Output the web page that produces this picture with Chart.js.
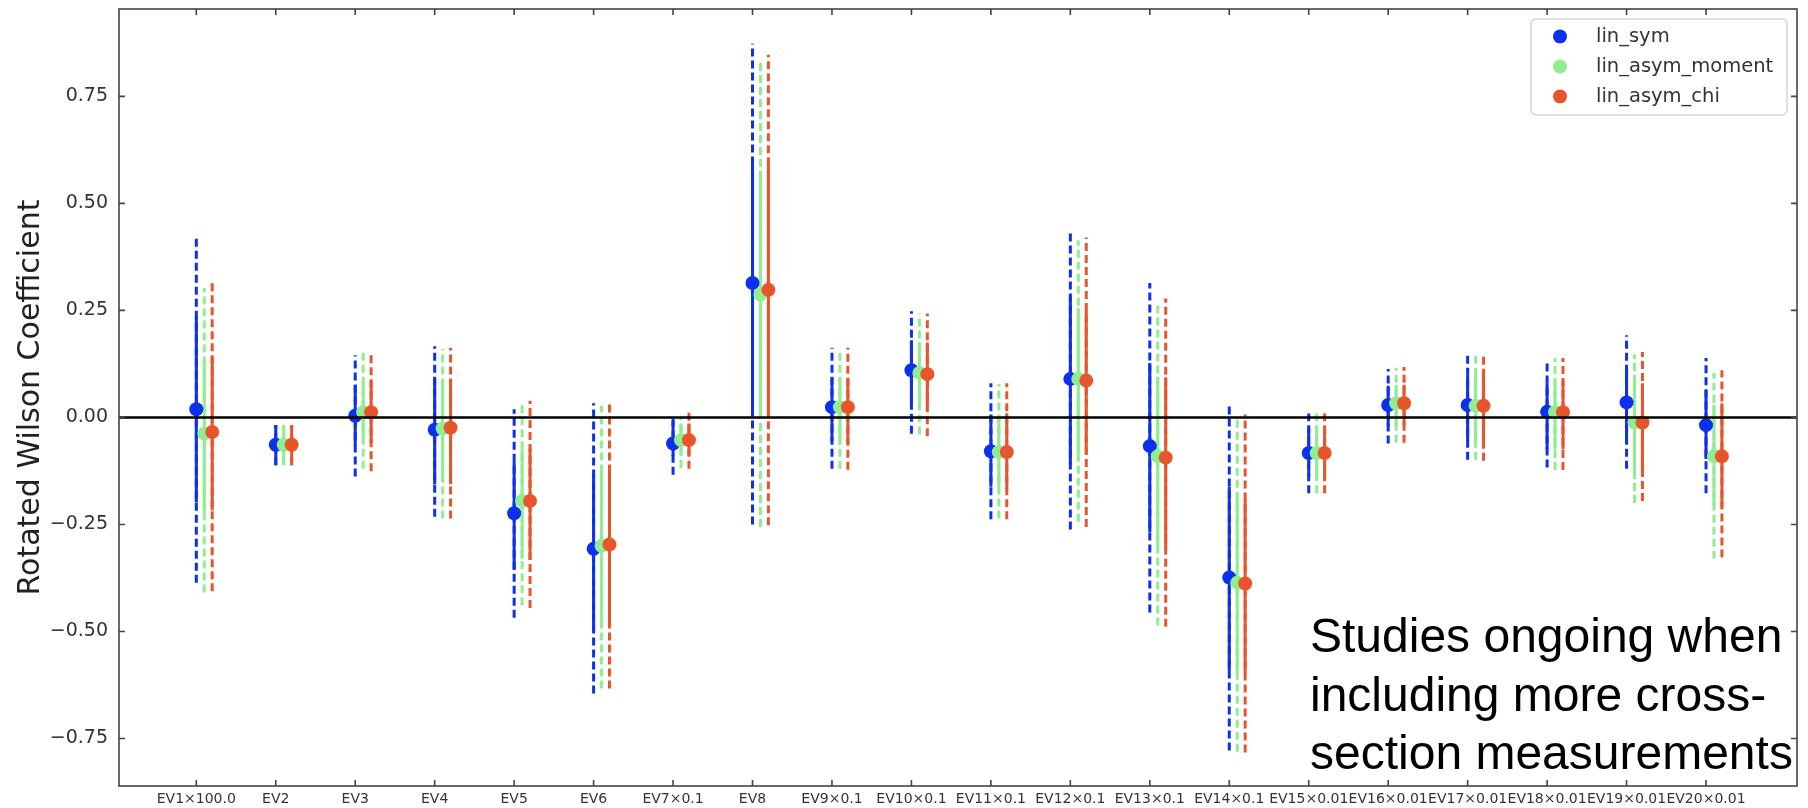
<!DOCTYPE html>
<html>
<head>
<meta charset="utf-8">
<title>Rotated Wilson Coefficients</title>
<script src="https://cdn.jsdelivr.net/npm/chart.js@4"></script>
<style>
  html, body { margin: 0; padding: 0; background: #fff; }
  #wrap { width: 1808px; height: 808px; position: relative; }
</style>
</head>
<body>
<div id="wrap"><canvas id="chart"></canvas></div>
<script>
// --- data ---
const categories = ['EV1×100.0', 'EV2', 'EV3', 'EV4', 'EV5', 'EV6', 'EV7×0.1', 'EV8', 'EV9×0.1', 'EV10×0.1',
  'EV11×0.1', 'EV12×0.1', 'EV13×0.1', 'EV14×0.1', 'EV15×0.01', 'EV16×0.01', 'EV17×0.01', 'EV18×0.01', 'EV19×0.01', 'EV20×0.01'];
const yTickValues = [-0.75, -0.5, -0.25, 0, 0.25, 0.5, 0.75];

// lin_sym
const symCenter  = [0.019, -0.064, 0.004, -0.029, -0.224, -0.307, -0.061, 0.314, 0.024, 0.110, -0.079, 0.090, -0.067, -0.374, -0.083, 0.029, 0.029, 0.013, 0.035, -0.018];
const symInnerLo = [-0.199, -0.112, -0.065, -0.156, -0.356, -0.498, -0.091, 0.015, -0.055, 0.033, -0.162, -0.108, -0.268, -0.592, -0.138, -0.020, -0.055, -0.073, -0.050, -0.097];
const symInnerHi = [0.236, -0.018, 0.075, 0.090, -0.103, -0.132, -0.008, 0.599, 0.092, 0.180, 0.007, 0.281, 0.127, -0.162, -0.026, 0.074, 0.098, 0.080, 0.116, 0.063];
const symOuterLo = [-0.386, -0.112, -0.138, -0.232, -0.468, -0.645, -0.134, -0.250, -0.120, -0.038, -0.238, -0.262, -0.456, -0.778, -0.177, -0.061, -0.099, -0.117, -0.120, -0.177];
const symOuterHi = [0.422, -0.018, 0.145, 0.166, 0.019, 0.033, 0.000, 0.873, 0.163, 0.248, 0.080, 0.432, 0.314, 0.027, 0.009, 0.113, 0.147, 0.131, 0.192, 0.139];

// lin_asym_moment
const momCenter  = [-0.038, -0.064, 0.012, -0.026, -0.195, -0.300, -0.053, 0.287, 0.024, 0.104, -0.081, 0.090, -0.091, -0.386, -0.083, 0.033, 0.027, 0.012, -0.012, -0.091];
const momInnerLo = [-0.222, -0.112, -0.055, -0.152, -0.330, -0.475, -0.088, 0.005, -0.055, 0.028, -0.162, -0.085, -0.305, -0.595, -0.138, -0.018, -0.055, -0.075, -0.125, -0.205];
const momInnerHi = [0.135, -0.018, 0.082, 0.088, -0.075, -0.125, -0.014, 0.575, 0.092, 0.176, 0.005, 0.255, 0.095, -0.185, -0.026, 0.076, 0.098, 0.085, 0.082, 0.030];
const momOuterLo = [-0.409, -0.112, -0.120, -0.236, -0.439, -0.633, -0.118, -0.256, -0.120, -0.040, -0.236, -0.244, -0.486, -0.781, -0.177, -0.059, -0.099, -0.123, -0.200, -0.330];
const momOuterHi = [0.302, -0.018, 0.151, 0.160, 0.033, 0.027, 0.004, 0.833, 0.160, 0.243, 0.078, 0.413, 0.271, 0.004, 0.009, 0.116, 0.145, 0.139, 0.147, 0.104];

// lin_asym_chi
const chiCenter  = [-0.034, -0.064, 0.012, -0.024, -0.195, -0.297, -0.053, 0.298, 0.024, 0.101, -0.081, 0.086, -0.094, -0.388, -0.083, 0.033, 0.027, 0.012, -0.012, -0.091];
const chiInnerLo = [-0.217, -0.112, -0.061, -0.156, -0.332, -0.478, -0.090, 0.009, -0.061, 0.024, -0.168, -0.085, -0.309, -0.598, -0.138, -0.018, -0.055, -0.075, -0.126, -0.209];
const chiInnerHi = [0.142, -0.018, 0.086, 0.086, -0.073, -0.123, -0.014, 0.593, 0.092, 0.175, 0.010, 0.251, 0.094, -0.191, -0.026, 0.076, 0.098, 0.085, 0.080, 0.033];
const chiOuterLo = [-0.406, -0.112, -0.126, -0.236, -0.445, -0.633, -0.120, -0.252, -0.122, -0.044, -0.238, -0.256, -0.489, -0.783, -0.177, -0.059, -0.101, -0.123, -0.195, -0.327];
const chiOuterHi = [0.314, -0.018, 0.151, 0.163, 0.039, 0.030, 0.012, 0.847, 0.163, 0.243, 0.080, 0.420, 0.278, 0.007, 0.009, 0.118, 0.145, 0.139, 0.153, 0.110];

const annotationLines = ['Studies ongoing when', 'including more cross-', 'section measurements'];

// --- styling ---
const series = [
  { label: 'lin_sym',         color: '#0b30ee', shift: 0,   c: symCenter, iLo: symInnerLo, iHi: symInnerHi, oLo: symOuterLo, oHi: symOuterHi },
  { label: 'lin_asym_moment', color: '#90ee90', shift: 0.1, c: momCenter, iLo: momInnerLo, iHi: momInnerHi, oLo: momOuterLo, oHi: momOuterHi },
  { label: 'lin_asym_chi',    color: '#e9552b', shift: 0.2, c: chiCenter, iLo: chiInnerLo, iHi: chiInnerHi, oLo: chiOuterLo, oHi: chiOuterHi }
];
const FONT = "'DejaVu Sans', sans-serif";

// vertical segments lo..hi at each category, broken by null points
function segments(lo, hi, shift) {
  const pts = [];
  lo.forEach((v, i) => {
    const x = i + 1 + shift;
    pts.push({ x, y: v }, { x, y: hi[i] }, { x, y: null });
  });
  return pts;
}

const datasets = [];
series.forEach((s, k) => {
  // points on top, orange over green over blue
  datasets.push({
    label: s.label, isMarker: true,
    data: s.c.map((v, i) => ({ x: i + 1 + s.shift, y: v })),
    backgroundColor: s.color, borderWidth: 0,
    pointRadius: 7, pointHoverRadius: 7, showLine: false,
    order: 2 - k
  });
  datasets.push({
    label: s.label + ' 68%',
    data: segments(s.iLo, s.iHi, s.shift),
    borderColor: s.color, borderWidth: 3, pointRadius: 0, pointHoverRadius: 0,
    showLine: true, spanGaps: false, borderCapStyle: 'butt',
    order: 5 - k
  });
  datasets.push({
    label: s.label + ' 95%',
    data: segments(s.oLo, s.oHi, s.shift),
    borderColor: s.color, borderWidth: 3, borderDash: [8, 4], pointRadius: 0, pointHoverRadius: 0,
    showLine: true, spanGaps: false, borderCapStyle: 'butt',
    order: 8 - k
  });
});

// zero line, frame and inward ticks like matplotlib
const framePlugin = {
  id: 'frame',
  afterDatasetsDraw(chart) {
    const { ctx, chartArea: a, scales: { x, y } } = chart;
    ctx.save();
    const y0 = y.getPixelForValue(0);
    ctx.strokeStyle = '#000';
    ctx.lineWidth = 2.5;
    ctx.beginPath();
    ctx.moveTo(a.left, y0);
    ctx.lineTo(a.right, y0);
    ctx.stroke();

    ctx.strokeStyle = '#444';
    ctx.lineWidth = 1.6;
    ctx.strokeRect(a.left, a.top, a.right - a.left, a.bottom - a.top);
    const len = 6;
    ctx.beginPath();
    x.ticks.forEach(t => {
      const px = x.getPixelForValue(t.value);
      ctx.moveTo(px, a.bottom); ctx.lineTo(px, a.bottom - len);
      ctx.moveTo(px, a.top); ctx.lineTo(px, a.top + len);
    });
    y.ticks.forEach(t => {
      const py = y.getPixelForValue(t.value);
      ctx.moveTo(a.left, py); ctx.lineTo(a.left + len, py);
      ctx.moveTo(a.right, py); ctx.lineTo(a.right - len, py);
    });
    ctx.stroke();
    ctx.restore();
  }
};

// legend box in the upper right corner + text note
const extrasPlugin = {
  id: 'extras',
  afterDraw(chart) {
    const { ctx, chartArea: a } = chart;
    ctx.save();
    const bx = a.right - 266, by = a.top + 10, bw = 256, bh = 96;
    ctx.fillStyle = 'rgba(255,255,255,0.85)';
    ctx.strokeStyle = '#d4d4d4';
    ctx.lineWidth = 1.5;
    ctx.beginPath();
    ctx.roundRect(bx, by, bw, bh, 5);
    ctx.fill();
    ctx.stroke();

    const markers = chart.data.datasets.filter(d => d.isMarker);
    ctx.font = '19.5px ' + FONT;
    ctx.textBaseline = 'middle';
    markers.forEach((d, i) => {
      const cy = by + 17.5 + i * 30;
      ctx.fillStyle = d.backgroundColor;
      ctx.beginPath();
      ctx.arc(bx + 29, cy, 7, 0, Math.PI * 2);
      ctx.fill();
      ctx.fillStyle = '#333';
      ctx.fillText(d.label, bx + 65, cy);
    });

    ctx.fillStyle = '#000';
    ctx.font = "48px 'Liberation Sans', Arial, sans-serif";
    ctx.textBaseline = 'alphabetic';
    annotationLines.forEach((line, i) => {
      ctx.fillText(line, 1310, 652 + i * 58.5);
    });
    ctx.restore();
  }
};

// keep the plot frame where the reference has it
function noEdgePadding(scale) {
  scale.paddingTop = 0; scale.paddingBottom = 0;
  scale.paddingLeft = 0; scale.paddingRight = 0;
}

new Chart(document.getElementById('chart'), {
  type: 'scatter',
  data: { datasets },
  options: {
    responsive: true,
    maintainAspectRatio: false,
    animation: false,
    events: [],
    layout: { padding: { top: 9, right: 11, left: 0, bottom: 0 } },
    plugins: { legend: { display: false }, tooltip: { enabled: false } },
    scales: {
      x: {
        type: 'linear',
        min: 0.027,
        max: 21.145,
        grid: { display: false, drawTicks: false },
        border: { display: false },
        afterBuildTicks: scale => { scale.ticks = categories.map((c, i) => ({ value: i + 1 })); },
        afterFit: scale => { scale.height = 22; noEdgePadding(scale); },
        ticks: {
          autoSkip: false, maxRotation: 0, minRotation: 0, padding: 5,
          color: '#333', font: { family: FONT, size: 14 },
          callback: v => categories[v - 1]
        }
      },
      y: {
        type: 'linear',
        min: -0.861,
        max: 0.954,
        grid: { display: false, drawTicks: false },
        border: { display: false },
        afterBuildTicks: scale => { scale.ticks = yTickValues.map(v => ({ value: v })); },
        afterFit: scale => { scale.width = 119; noEdgePadding(scale); },
        ticks: {
          padding: 11, color: '#333', font: { family: FONT, size: 19 },
          callback: v => v.toFixed(2).replace('-', '\u2212')
        },
        title: {
          display: true,
          text: 'Rotated Wilson Coefficient',
          color: '#222',
          font: { family: FONT, size: 30 },
          padding: { top: 13, bottom: 0 }
        }
      }
    }
  },
  plugins: [framePlugin, extrasPlugin]
});
</script>
</body>
</html>
